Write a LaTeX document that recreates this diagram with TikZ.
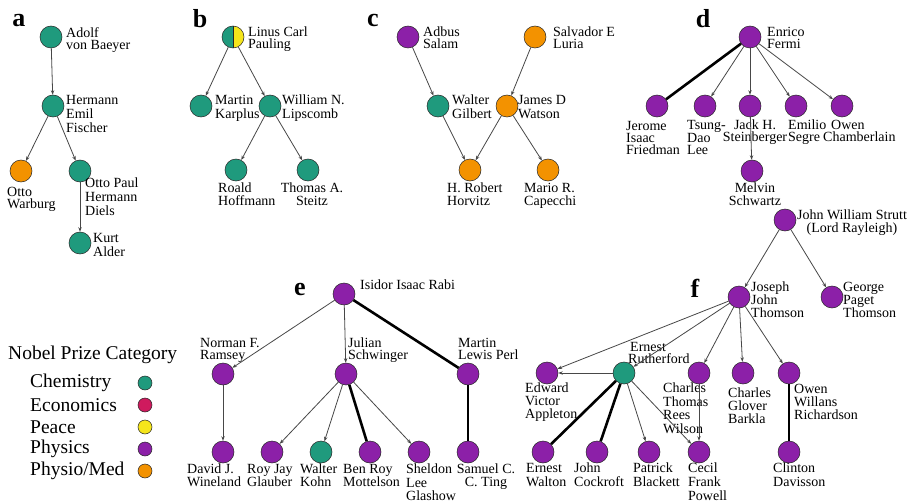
\documentclass[tikz,border=0pt]{standalone}
\usepackage{fontspec}
\setmainfont{Liberation Serif}
\usetikzlibrary{arrows.meta}
\definecolor{chem}{HTML}{1F9A7D}
\definecolor{econ}{HTML}{CF1A5E}
\definecolor{peace}{HTML}{F5E51B}
\definecolor{phys}{HTML}{8C20A8}
\definecolor{med}{HTML}{F39200}
\begin{document}
\begin{tikzpicture}[x=1pt,y=-1pt,
  nd/.style={circle,draw=black!85,line width=0.5pt,minimum size=22pt,inner sep=0pt},
  ch/.style={nd,fill=chem}, ph/.style={nd,fill=phys}, md/.style={nd,fill=med},
  lbl/.style={anchor=north west,align=left,inner sep=0pt,font=\fontsize{14}{#1}\selectfont},
  lbl/.default=13,
  lblc/.style={anchor=north,align=center,inner sep=0pt,font=\fontsize{14}{#1}\selectfont},
  lblc/.default=13,
  ar/.style={draw=black!72,line width=0.8pt,-{Stealth[length=4.5pt,width=3.4pt]}},
  tk/.style={draw=black,line width=2.6pt},
  pl/.style={font=\fontsize{26}{26}\selectfont\bfseries,inner sep=0pt},
  lg/.style={anchor=west,inner sep=0pt,font=\fontsize{19.5}{20}\selectfont},
  lgc/.style={circle,draw=black!85,line width=0.5pt,minimum size=14pt,inner sep=0pt}
]
\fill[white] (0,0) rectangle (916,503);
\useasboundingbox (0,0) rectangle (916,503);

% panel letters
\node[pl] (pa) at (19,21) {a};
\node[pl] (pb) at (200,19) {b};
\node[pl] (pc) at (373,20) {c};
\node[pl] (pd) at (703,19) {d};
\node[pl] (pe) at (300,290) {e};
\node[pl] (pf) at (695,288) {f};

% ---------- a ----------
\node[ch] (baeyer) at (51,37) {};
\node[ch] (fischer) at (53,106) {};
\node[md] (warburg) at (21,171) {};
\node[ch] (diels) at (80,171) {};
\node[ch] (alder) at (80,243) {};
\node[lbl=12] (baeyerL) at (66,27) {Adolf\\von Baeyer};
\node[lbl=14] (fischerL) at (66,95) {Hermann\\Emil\\Fischer};
\node[lbl=12] (warburgL) at (7,187) {Otto\\Warburg};
\node[lbl=14] (dielsL) at (85,178) {Otto Paul\\Hermann\\Diels};
\node[lbl=14] (alderL) at (93,233) {Kurt\\Alder};
\draw[ar] (baeyer) -- (fischer);
\draw[ar] (fischer) -- (warburg);
\draw[ar] (fischer) -- (diels);
\draw[ar] (diels) -- (alder);

% ---------- b ----------
\node[nd,path picture={
  \fill[chem] (path picture bounding box.south west) rectangle (path picture bounding box.north);
  \fill[peace] (path picture bounding box.south) rectangle (path picture bounding box.north east);
  \draw[black!85,line width=0.5pt] (path picture bounding box.south) -- (path picture bounding box.north);}]
  (pauling) at (233,37) {};
\node[ch] (karplus) at (201,106) {};
\node[ch] (lipscomb) at (270,106) {};
\node[ch] (hoffmann) at (236,170) {};
\node[ch] (steitz) at (308,170) {};
\node[lbl=12] (paulingL) at (248,27) {Linus Carl\\Pauling};
\node[lbl=14] (karplusL) at (215,95) {Martin\\Karplus};
\node[lbl=14] (lipscombL) at (282,95) {William N.\\Lipscomb};
\node[lbl=13] (hoffmannL) at (218,183) {Roald\\Hoffmann};
\node[lblc=13] (steitzL) at (312,183) {Thomas A.\\Steitz};
\draw[ar] (pauling) -- (karplus);
\draw[ar] (pauling) -- (lipscomb);
\draw[ar] (lipscomb) -- (hoffmann);
\draw[ar] (lipscomb) -- (steitz);

% ---------- c ----------
\node[ph] (salam) at (408,37) {};
\node[md] (luria) at (535,37) {};
\node[ch] (gilbert) at (438,106) {};
\node[md] (watson) at (507,106) {};
\node[md] (horvitz) at (470,170) {};
\node[md] (capecchi) at (548,170) {};
\node[lbl=12] (salamL) at (423,27) {Adbus\\Salam};
\node[lbl=12] (luriaL) at (553,27) {Salvador E\\Luria};
\node[lbl=14] (gilbertL) at (452,95) {Walter\\Gilbert};
\node[lbl=14] (watsonL) at (518,95) {James D\\Watson};
\node[lbl=13] (horvitzL) at (447,183) {H. Robert\\Horvitz};
\node[lbl=13] (capecchiL) at (524,183) {Mario R.\\Capecchi};
\draw[ar] (salam) -- (gilbert);
\draw[ar] (luria) -- (watson);
\draw[ar] (gilbert) -- (horvitz);
\draw[ar] (watson) -- (horvitz);
\draw[ar] (watson) -- (capecchi);

% ---------- d ----------
\node[ph] (fermi) at (750,37) {};
\node[ph] (friedman) at (657,106) {};
\node[ph] (lee) at (705,106) {};
\node[ph] (steinberger) at (750,106) {};
\node[ph] (segre) at (796,106) {};
\node[ph] (chamberlain) at (842,106) {};
\node[ph] (schwartz) at (752,171) {};
\node[lbl=12] (fermiL) at (767,27) {Enrico\\Fermi};
\node[lbl=12] (friedmanL) at (626,121) {Jerome\\Isaac\\Friedman};
\node[lbl=12] (leeL) at (687,120) {Tsung-\\Dao\\Lee};
\node[lblc=12] (steinbergerL) at (755,120) {Jack H.\\Steinberger};
\node[lbl=12] (segreL) at (788,120) {Emilio\\Segre};
\node[lbl=12] (chamberlainL) at (823,120) {\hspace{8pt}Owen\\Chamberlain};
\node[lblc=13] (schwartzL) at (755,183) {Melvin\\Schwartz};
\draw[tk] (fermi) -- (friedman);
\draw[ar] (fermi) -- (lee);
\draw[ar] (fermi) -- (steinberger);
\draw[ar] (fermi) -- (segre);
\draw[ar] (fermi) -- (chamberlain);
\draw[ar] (steinberger) -- (schwartz);

% ---------- e ----------
\node[ph] (rabi) at (344,294) {};
\node[ph] (ramsey) at (223,374) {};
\node[ph] (schwinger) at (346,374) {};
\node[ph] (perl) at (468,374) {};
\node[ph] (wineland) at (223,452) {};
\node[ph] (glauber) at (272,452) {};
\node[ch] (kohn) at (321,452) {};
\node[ph] (mottelson) at (370,452) {};
\node[ph] (glashow) at (419,452) {};
\node[ph] (ting) at (468,452) {};
\node[lbl] (rabiL) at (360,280) {Isidor Isaac Rabi};
\node[lbl=12] (ramseyL) at (200,338) {Norman F.\\Ramsey};
\node[lbl=12] (schwingerL) at (348,338) {Julian\\Schwinger};
\node[lbl=12] (perlL) at (458,338) {Martin\\Lewis Perl};
\node[lbl=13] (winelandL) at (187,464) {David J.\\Wineland};
\node[lbl=13] (glauberL) at (247,464) {Roy Jay\\Glauber};
\node[lbl=13] (kohnL) at (300,464) {Walter\\Kohn};
\node[lbl=13] (mottelsonL) at (343,464) {Ben Roy\\Mottelson};
\node[lbl=13.5] (glashowL) at (406,464) {Sheldon\\Lee\\Glashow};
\node[lblc=13] (tingL) at (486,464) {Samuel C.\\C. Ting};
\draw[ar] (rabi) -- (ramsey);
\draw[ar] (rabi) -- (schwinger);
\draw[tk] (rabi) -- (perl);
\draw[ar] (ramsey) -- (wineland);
\draw[ar] (schwinger) -- (glauber);
\draw[ar] (schwinger) -- (kohn);
\draw[tk] (schwinger) -- (mottelson);
\draw[ar] (schwinger) -- (glashow);
\draw[tk] (perl) -- (ting);

% ---------- f ----------
\node[ph] (strutt) at (785,220) {};
\node[ph] (jjthomson) at (739,297) {};
\node[ph] (gpthomson) at (832,297) {};
\node[ph] (appleton) at (547,373) {};
\node[ch] (rutherford) at (624,373) {};
\node[ph] (wilson) at (699,373) {};
\node[ph] (barkla) at (743,373) {};
\node[ph] (richardson) at (789,373) {};
\node[ph] (walton) at (543,452) {};
\node[ph] (cockroft) at (597,452) {};
\node[ph] (blackett) at (649,452) {};
\node[ph] (powell) at (699,452) {};
\node[ph] (davisson) at (789,452) {};
\node[lblc=13] (struttL) at (852,210) {John William Strutt\\(Lord Rayleigh)};
\node[lbl=13] (jjthomsonL) at (751,282) {Joseph\\John\\Thomson};
\node[lbl=13] (gpthomsonL) at (843,282) {George\\Paget\\Thomson};
\node[lbl=13] (appletonL) at (525,383) {Edward\\Victor\\Appleton};
\node[lbl=12] (rutherfordL) at (628,342) {\hspace{2pt}Ernest\\Rutherford};
\node[lbl=13.5] (wilsonL) at (663,383) {Charles\\Thomas\\Rees\\Wilson};
\node[lbl=13] (barklaL) at (728,388) {Charles\\Glover\\Barkla};
\node[lbl=13] (richardsonL) at (794,384) {Owen\\Willans\\Richardson};
\node[lbl=14] (waltonL) at (526,463) {Ernest\\Walton};
\node[lbl=14] (cockroftL) at (574,463) {John\\Cockroft};
\node[lbl=14] (blackettL) at (633,463) {Patrick\\Blackett};
\node[lbl=14] (powellL) at (688,463) {Cecil\\Frank\\Powell};
\node[lbl=14] (davissonL) at (773,463) {Clinton\\Davisson};
\draw[ar] (strutt) -- (jjthomson);
\draw[ar] (strutt) -- (gpthomson);
\draw[ar] (jjthomson) -- (appleton);
\draw[ar] (jjthomson) -- (rutherford);
\draw[ar] (jjthomson) -- (wilson);
\draw[ar] (jjthomson) -- (barkla);
\draw[ar] (jjthomson) -- (richardson);
\draw[ar] (rutherford) -- (appleton);
\draw[tk] (rutherford) -- (walton);
\draw[tk] (rutherford) -- (cockroft);
\draw[ar] (rutherford) -- (blackett);
\draw[ar] (rutherford) -- (powell);
\draw[ar] (wilson) -- (powell);
\draw[tk] (richardson) -- (davisson);

% ---------- legend ----------
\node[lg] (legT) at (8,355) {Nobel Prize Category};
\node[lg] (legChem) at (30,383) {Chemistry};
\node[lg] (legEcon) at (30,405) {Economics};
\node[lg] (legPeace) at (30,427) {Peace};
\node[lg] (legPhys) at (30,449) {Physics};
\node[lg] (legMed) at (30,471) {Physio/Med};
\node[lgc,fill=chem] (cChem) at (145,383) {};
\node[lgc,fill=econ] (cEcon) at (145,405) {};
\node[lgc,fill=peace] (cPeace) at (145,427) {};
\node[lgc,fill=phys] (cPhys) at (145,449) {};
\node[lgc,fill=med] (cMed) at (145,471) {};
\end{tikzpicture}
\end{document}
